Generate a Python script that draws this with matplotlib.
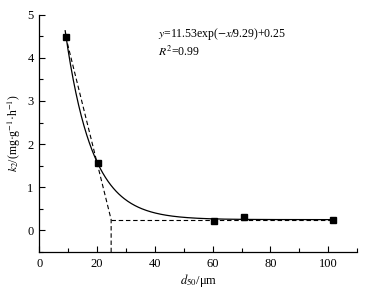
import matplotlib
matplotlib.use("Agg")
import matplotlib.pyplot as plt
import numpy as np
from matplotlib.ticker import MultipleLocator

plt.rcParams['font.family'] = ['Liberation Serif', 'DejaVu Serif']
plt.rcParams['mathtext.fontset'] = 'stix'

# measured points
d50 = [9.2, 20.2, 60.5, 70.8, 101.5]
k2 = [4.49, 1.56, 0.22, 0.31, 0.23]

# fit y = a*exp(-x/t) + c
a, t, c = 11.53, 9.29, 0.25

# tangent construction (dashed)
tan_x = [9.2, 24.9, 24.9]
tan_y = [4.49, 0.25, -0.5]
flat_x = [24.9, 101.5]
flat_y = [0.25, 0.25]

fig = plt.figure(figsize=(3.84, 2.92), dpi=100)
ax = fig.add_axes([0.102, 0.137, 0.828, 0.813])

xf = np.linspace(9.0, 101.5, 300)
ax.plot(xf, a * np.exp(-xf / t) + c, color='black', lw=0.9)
ax.plot(tan_x, tan_y, color='black', lw=0.8, ls=(0, (4, 2.5)))
ax.plot(flat_x, flat_y, color='black', lw=0.8, ls=(0, (4, 2.5)))
ax.plot(d50, k2, 's', color='black', ms=4)

ax.set_xlim(0, 110)
ax.set_ylim(-0.5, 5)
ax.xaxis.set_major_locator(MultipleLocator(20))
ax.xaxis.set_minor_locator(MultipleLocator(10))
ax.yaxis.set_major_locator(MultipleLocator(1))
ax.yaxis.set_minor_locator(MultipleLocator(0.5))
ax.set_xticks([0, 20, 40, 60, 80, 100])
ax.tick_params(which='both', direction='in', labelsize=9, width=0.8, pad=4)
ax.tick_params(which='major', length=4)
ax.tick_params(which='minor', length=3)
for s in ['top', 'right']:
    ax.spines[s].set_visible(False)
for s in ['left', 'bottom']:
    ax.spines[s].set_linewidth(0.9)

ax.set_xlabel(r'$d_{50}$/μm', fontsize=9, labelpad=2)
ax.set_ylabel(r'$k_2$/(mg·g$^{-1}$·h$^{-1}$)', fontsize=8.5, labelpad=3)

ax.text(0.374, 0.905, r'$y$=11.53exp($-x$/9.29)+0.25', transform=ax.transAxes, fontsize=8.5)
ax.text(0.374, 0.825, r'$R^2$=0.99', transform=ax.transAxes, fontsize=8.5)

fig.savefig('out.png', dpi=100)
